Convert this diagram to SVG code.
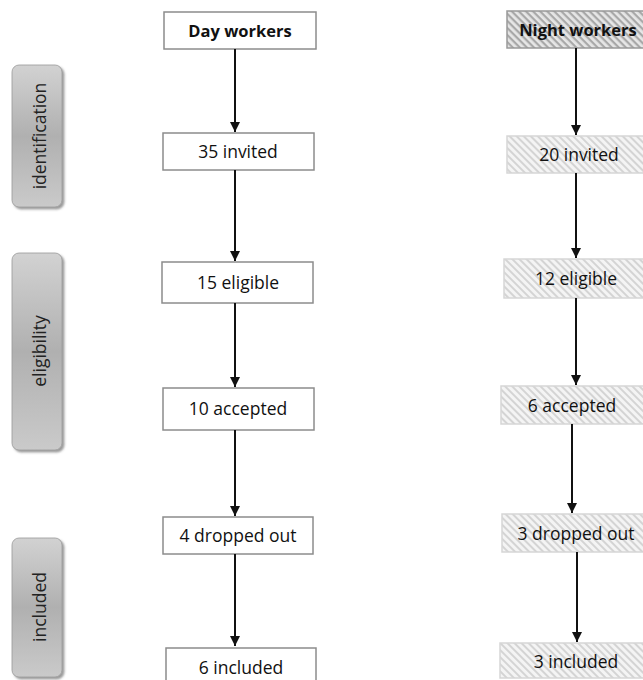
<svg xmlns="http://www.w3.org/2000/svg" width="643" height="680" viewBox="0 0 643 680">
<defs>
<linearGradient id="sideGrad" x1="0" y1="0" x2="0" y2="1">
<stop offset="0" stop-color="#d2d2d2"/>
<stop offset="0.5" stop-color="#b0b0b0"/>
<stop offset="1" stop-color="#cacaca"/>
</linearGradient>
<pattern id="hatchLight" width="5" height="5" patternUnits="userSpaceOnUse" patternTransform="rotate(45)">
<rect width="5" height="5" fill="#f4f4f4"/>
<rect width="5" height="2" fill="#d4d4d4"/>
</pattern>
<pattern id="hatchDark" width="5" height="5" patternUnits="userSpaceOnUse" patternTransform="rotate(45)">
<rect width="5" height="5" fill="#e6e6e6"/>
<rect width="5" height="2.2" fill="#a8a8a8"/>
</pattern>
<marker id="arrow" viewBox="0 0 10 10" refX="10" refY="5" markerWidth="5" markerHeight="5" markerUnits="strokeWidth" orient="auto">
<path d="M0,0 L10,5 L0,10 z" fill="#111"/>
</marker>
<filter id="shadow" x="-20%" y="-10%" width="150%" height="130%">
<feDropShadow dx="2" dy="2" stdDeviation="1.2" flood-color="#555" flood-opacity="0.6"/>
</filter>
</defs>
<style>
.day rect{fill:#fff;stroke:#8c8c8c;stroke-width:1.5}
.night rect{fill:url(#hatchLight);stroke:#d6d6d6;stroke-width:1.5}
.nighthead rect{fill:url(#hatchDark);stroke:#999;stroke-width:1.5}
.lbl{font-family:"Open Sans",Lato,sans-serif;font-size:17.5px;fill:#111;text-anchor:middle}
.bold{font-weight:bold;font-size:16.5px}
.side rect{fill:url(#sideGrad);stroke:#9a9a9a;stroke-width:0.8;filter:url(#shadow)}
.side text{font-family:"Open Sans",Lato,sans-serif;font-size:17.5px;fill:#222;text-anchor:middle}
.conn line{stroke:#111;stroke-width:2;marker-end:url(#arrow)}
</style>
<g id="side-identification" class="side"><rect x="12" y="65" width="50" height="142" rx="7"/><text transform="translate(46,136) rotate(-90)">identification</text></g>
<g id="side-eligibility" class="side"><rect x="12" y="253" width="50" height="197" rx="7"/><text transform="translate(46,351) rotate(-90)">eligibility</text></g>
<g id="side-included" class="side"><rect x="12" y="538" width="50" height="139" rx="7"/><text transform="translate(46,607) rotate(-90)">included</text></g>

<g id="day-workers" class="day"><rect x="164" y="12" width="152" height="37"/><text class="lbl bold" x="240" y="37">Day workers</text></g>
<g id="day-invited" class="day"><rect x="163" y="133" width="151" height="37"/><text class="lbl" x="238" y="158">35 invited</text></g>
<g id="day-eligible" class="day"><rect x="162" y="262" width="151" height="41"/><text class="lbl" x="238" y="289">15 eligible</text></g>
<g id="day-accepted" class="day"><rect x="163" y="388" width="151" height="42"/><text class="lbl" x="238" y="415">10 accepted</text></g>
<g id="day-dropped" class="day"><rect x="163" y="517" width="150" height="37"/><text class="lbl" x="238" y="542">4 dropped out</text></g>
<g id="day-included" class="day"><rect x="166" y="648" width="150" height="38"/><text class="lbl" x="241" y="674">6 included</text></g>

<g id="night-workers" class="nighthead"><rect x="507" y="11" width="140" height="37"/><text class="lbl bold" x="578" y="36">Night workers</text></g>
<g id="night-invited" class="night"><rect x="507" y="136" width="140" height="37"/><text class="lbl" x="579" y="161">20 invited</text></g>
<g id="night-eligible" class="night"><rect x="504" y="259" width="143" height="39"/><text class="lbl" x="576" y="285">12 eligible</text></g>
<g id="night-accepted" class="night"><rect x="501" y="386" width="146" height="38"/><text class="lbl" x="572" y="412">6 accepted</text></g>
<g id="night-dropped" class="night"><rect x="502" y="514" width="145" height="38"/><text class="lbl" x="576" y="540">3 dropped out</text></g>
<g id="night-included" class="night"><rect x="500" y="643" width="147" height="35"/><text class="lbl" x="576" y="668">3 included</text></g>

<g id="connectors" class="conn">
<line x1="235" y1="49" x2="235" y2="132"/>
<line x1="235" y1="170" x2="235" y2="261"/>
<line x1="235" y1="303" x2="235" y2="387"/>
<line x1="235" y1="430" x2="235" y2="516"/>
<line x1="235" y1="554" x2="235" y2="646"/>
<line x1="576" y1="48" x2="576" y2="135"/>
<line x1="576" y1="173" x2="576" y2="258"/>
<line x1="576" y1="298" x2="576" y2="385"/>
<line x1="572" y1="424" x2="572" y2="513"/>
<line x1="577" y1="552" x2="577" y2="642"/>
</g>
</svg>
